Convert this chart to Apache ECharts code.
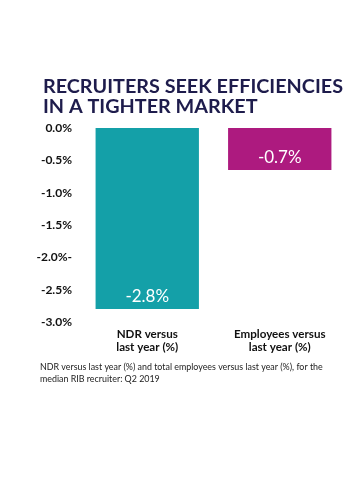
<!DOCTYPE html>
<html><head><meta charset="utf-8">
<script src="https://cdn.jsdelivr.net/npm/echarts@6/dist/echarts.min.js"></script>
<style>html,body{margin:0;padding:0;background:#fff}#c{width:364px;height:494px}</style>
</head><body><div id="c"></div>
<script>
const categories = ["NDR versus\nlast year (%)", "Employees versus\nlast year (%)"];
const values = [-2.8, -0.65];
const valueLabels = ["-2.8%", "-0.7%"];
const barColors = ["#14a0a8", "#ad1a7f"];
const tickValues = [0, -0.5, -1, -1.5, -2, -2.5, -3];
const tickLabels = ["0.0%", "-0.5%", "-1.0%", "-1.5%", "-2.0%-", "-2.5%", "-3.0%"];
const titleText = "RECRUITERS SEEK EFFICIENCIES\nIN A TIGHTER MARKET";
const noteText = "NDR versus last year (%) and total employees versus last year (%), for the\nmedian RIB recruiter: Q2 2019";

const chart = echarts.init(document.getElementById('c'));
chart.setOption({
  animation: false,
  title: {
    text: titleText, left: 38, top: 71,
    textStyle: {fontFamily: 'Lato', fontWeight: 'bold', fontSize: 19.8, color: '#1e1c4c', lineHeight: 20.5}
  },
  graphic: [{
    type: 'text', left: 40, top: 361,
    style: {text: noteText, font: '8.9px Lato', fill: '#222', lineHeight: 12}
  }],
  grid: {left: 81, right: 18, top: 128, bottom: 172, containLabel: false},
  xAxis: {
    type: 'category', data: categories, position: 'bottom',
    axisLine: {show: false}, axisTick: {show: false},
    axisLabel: {fontFamily: 'Lato', fontWeight: 'bold', fontSize: 11.6, color: '#111', lineHeight: 12.5, margin: 6}
  },
  yAxis: {
    type: 'value', min: -3, max: 0, interval: 0.5,
    splitLine: {show: false}, axisLine: {show: false}, axisTick: {show: false},
    axisLabel: {
      fontFamily: 'Lato', fontWeight: 'bold', fontSize: 12, color: '#111', margin: 9,
      formatter: v => { const i = tickValues.findIndex(t => Math.abs(t - v) < 1e-9); return i >= 0 ? tickLabels[i] : ''; }
    }
  },
  series: [{
    type: 'bar', barWidth: '78%',
    data: values.map((v, i) => ({value: v, itemStyle: {color: barColors[i]}})),
    label: {
      show: true, position: 'insideBottom', distance: 4,
      fontFamily: 'Lato', fontSize: 17, color: '#fff',
      formatter: p => valueLabels[p.dataIndex]
    }
  }]
});
</script></body></html>
